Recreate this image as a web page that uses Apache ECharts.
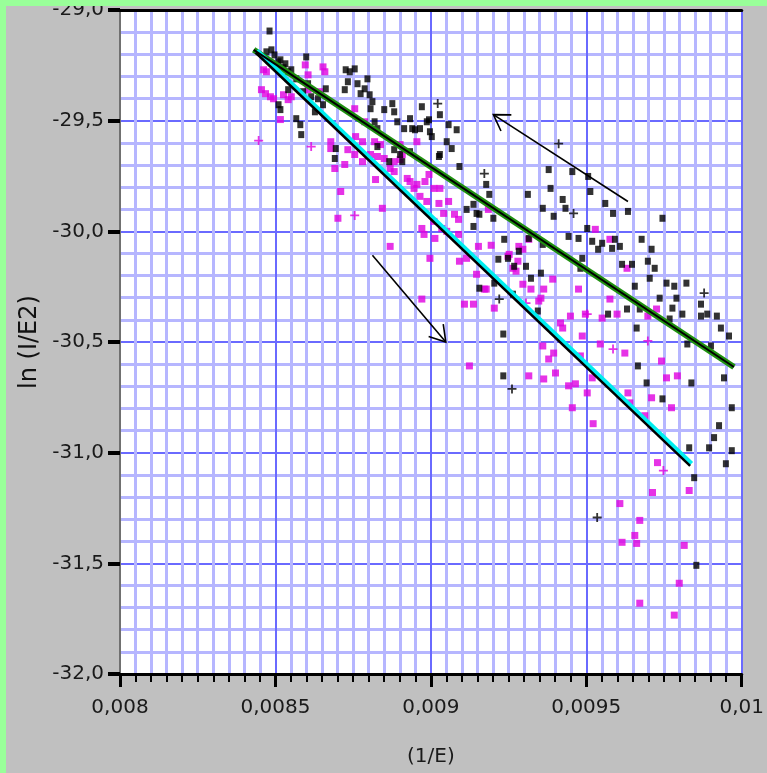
<!DOCTYPE html>
<html>
<head>
<meta charset="utf-8">
<script src="https://cdn.jsdelivr.net/npm/echarts@6/dist/echarts.min.js"></script>
<style>
html,body{margin:0;padding:0;background:#c0c0c0;}
#wrap{position:relative;width:767px;height:773px;overflow:hidden;}
#chart{position:absolute;left:0;top:0;width:767px;height:773px;}
.gb{position:absolute;background:#99ff99;z-index:5;}
</style>
</head>
<body>
<div id="wrap">
<div id="chart"></div>
<div class="gb" style="left:0;top:0;width:767px;height:6px;"></div>
<div class="gb" style="left:0;top:0;width:6px;height:773px;"></div>
</div>
<script>
// ---- data (x = 1/E, y = ln(I/E2)) ----
const blackSquares = [
[8.481e-3,-29.095],[8.487e-3,-29.180],[8.497e-3,-29.203],[8.510e-3,-29.234],[8.516e-3,-29.225],
[8.532e-3,-29.243],[8.541e-3,-29.279],[8.551e-3,-29.270],[8.567e-3,-29.311],[8.599e-3,-29.212],
[8.605e-3,-29.333],[8.510e-3,-29.428],[8.516e-3,-29.450],[8.567e-3,-29.491],[8.580e-3,-29.518],
[8.583e-3,-29.563],[8.615e-3,-29.392],[8.637e-3,-29.401],[8.653e-3,-29.428],[8.662e-3,-29.356],
[8.627e-3,-29.460],[8.694e-3,-29.626],[8.691e-3,-29.671],[8.726e-3,-29.270],[8.739e-3,-29.279],
[8.755e-3,-29.266],[8.733e-3,-29.324],[8.723e-3,-29.360],[8.764e-3,-29.333],[8.787e-3,-29.356],
[8.774e-3,-29.378],[8.796e-3,-29.311],[8.803e-3,-29.383],[8.812e-3,-29.414],[8.806e-3,-29.446],
[8.819e-3,-29.505],[8.828e-3,-29.536],[8.850e-3,-29.450],[8.876e-3,-29.423],[8.882e-3,-29.460],
[8.892e-3,-29.505],[8.914e-3,-29.536],[8.933e-3,-29.491],[8.940e-3,-29.536],[8.828e-3,-29.617],
[8.882e-3,-29.631],[8.901e-3,-29.653],[8.908e-3,-29.685],[8.866e-3,-29.685],[8.933e-3,-29.640],
[8.971e-3,-29.437],[8.949e-3,-29.541],[8.987e-3,-29.505],[8.997e-3,-29.550],[9.029e-3,-29.473],
[8.994e-3,-29.496],[8.965e-3,-29.536],[9.003e-3,-29.572],[9.057e-3,-29.518],[9.083e-3,-29.541],
[9.051e-3,-29.595],[9.029e-3,-29.653],[9.067e-3,-29.626],[9.026e-3,-29.662],[9.092e-3,-29.707],
[9.178e-3,-29.788],[9.188e-3,-29.833],[9.115e-3,-29.901],[9.147e-3,-29.919],[9.137e-3,-29.978],
[9.137e-3,-29.878],[9.156e-3,-29.923],[9.201e-3,-29.941],[9.236e-3,-30.036],[9.312e-3,-29.833],
[9.360e-3,-29.896],[9.379e-3,-29.721],[9.385e-3,-29.806],[9.424e-3,-29.856],[9.433e-3,-29.896],
[9.395e-3,-29.932],[9.443e-3,-30.023],[9.455e-3,-29.730],[9.315e-3,-30.032],[9.360e-3,-30.059],
[9.283e-3,-30.090],[9.506e-3,-29.752],[9.513e-3,-29.820],[9.561e-3,-29.874],[9.586e-3,-29.919],
[9.634e-3,-29.910],[9.745e-3,-29.941],[9.503e-3,-29.987],[9.475e-3,-30.032],[9.519e-3,-30.045],
[9.538e-3,-30.081],[9.551e-3,-30.054],[9.592e-3,-30.036],[9.608e-3,-30.068],[9.583e-3,-30.077],
[9.678e-3,-30.036],[9.710e-3,-30.081],[9.487e-3,-30.122],[9.481e-3,-30.167],[9.615e-3,-30.149],
[9.647e-3,-30.149],[9.698e-3,-30.135],[9.720e-3,-30.167],[9.704e-3,-30.212],[9.656e-3,-30.248],
[9.758e-3,-30.234],[9.783e-3,-30.248],[9.822e-3,-30.234],[9.736e-3,-30.302],[9.790e-3,-30.302],
[9.777e-3,-30.347],[9.809e-3,-30.374],[9.869e-3,-30.329],[9.869e-3,-30.383],[9.889e-3,-30.374],
[9.920e-3,-30.383],[9.933e-3,-30.437],[9.959e-3,-30.473],[9.570e-3,-30.374],[9.631e-3,-30.351],
[9.672e-3,-30.351],[9.662e-3,-30.437],[9.768e-3,-30.396],[9.901e-3,-30.518],[9.825e-3,-30.509],
[9.306e-3,-30.158],[9.217e-3,-30.126],[9.248e-3,-30.122],[9.268e-3,-30.158],[9.322e-3,-30.212],
[9.354e-3,-30.189],[9.156e-3,-30.257],[9.204e-3,-30.234],[9.264e-3,-30.284],[9.344e-3,-30.360],
[9.233e-3,-30.464],[9.233e-3,-30.653],[9.666e-3,-30.608],[9.694e-3,-30.685],[9.838e-3,-30.685],
[9.745e-3,-30.757],[9.943e-3,-30.662],[9.968e-3,-30.797],[9.927e-3,-30.878],[9.911e-3,-30.932],
[9.895e-3,-30.978],[9.831e-3,-30.978],[9.968e-3,-30.991],[9.949e-3,-31.050],[9.847e-3,-31.113],
[9.854e-3,-31.509],[8.471e-3,-29.189],[8.526e-3,-29.261],[8.589e-3,-29.369],[8.541e-3,-29.360]
];
const blackPlus = [
[9.022e-3,-29.423],[9.172e-3,-29.739],[9.411e-3,-29.604],[9.459e-3,-29.919],
[9.879e-3,-30.279],[9.220e-3,-30.306],[9.261e-3,-30.712],[9.535e-3,-31.293]
];
const magentaSquares = [
[8.462e-3,-29.270],[8.471e-3,-29.279],[8.455e-3,-29.360],[8.468e-3,-29.378],[8.484e-3,-29.392],
[8.494e-3,-29.401],[8.526e-3,-29.383],[8.541e-3,-29.405],[8.551e-3,-29.392],[8.516e-3,-29.495],
[8.596e-3,-29.248],[8.653e-3,-29.257],[8.659e-3,-29.279],[8.605e-3,-29.360],[8.605e-3,-29.293],
[8.643e-3,-29.369],[8.678e-3,-29.595],[8.678e-3,-29.626],[8.691e-3,-29.716],[8.723e-3,-29.698],
[8.733e-3,-29.631],[8.755e-3,-29.653],[8.758e-3,-29.572],[8.780e-3,-29.595],[8.787e-3,-29.505],
[8.755e-3,-29.446],[8.806e-3,-29.653],[8.828e-3,-29.662],[8.850e-3,-29.671],[8.838e-3,-29.608],
[8.819e-3,-29.595],[8.822e-3,-29.766],[8.869e-3,-29.716],[8.882e-3,-29.685],[8.901e-3,-29.676],
[8.908e-3,-29.653],[8.924e-3,-29.761],[8.933e-3,-29.775],[8.946e-3,-29.806],[8.710e-3,-29.820],
[8.780e-3,-29.685],[8.844e-3,-29.896],[8.701e-3,-29.941],[8.882e-3,-29.730],[8.965e-3,-29.842],
[8.987e-3,-29.865],[9.026e-3,-29.874],[9.057e-3,-29.865],[9.041e-3,-29.919],[9.076e-3,-29.923],
[9.035e-3,-29.987],[9.051e-3,-30.000],[8.971e-3,-29.987],[8.994e-3,-29.743],[9.010e-3,-29.806],
[8.869e-3,-30.068],[9.153e-3,-30.068],[9.194e-3,-30.063],[8.955e-3,-29.595],[8.901e-3,-29.608],
[8.955e-3,-29.788],[8.981e-3,-29.775],[9.029e-3,-29.806],[9.089e-3,-29.946],[9.010e-3,-29.955],
[8.978e-3,-30.014],[9.089e-3,-30.014],[9.185e-3,-29.901],[9.248e-3,-30.113],[8.997e-3,-30.122],
[8.971e-3,-30.306],[9.013e-3,-30.032],[9.092e-3,-30.135],[9.115e-3,-30.122],[9.147e-3,-30.194],
[9.178e-3,-30.261],[9.108e-3,-30.329],[9.137e-3,-30.329],[9.204e-3,-30.347],[9.252e-3,-30.104],
[9.264e-3,-30.167],[9.296e-3,-30.239],[9.322e-3,-30.261],[9.283e-3,-30.068],[9.354e-3,-30.302],
[9.124e-3,-30.608],[9.315e-3,-30.653],[9.363e-3,-30.667],[9.401e-3,-30.640],[9.455e-3,-30.797],
[9.522e-3,-30.869],[9.443e-3,-30.698],[9.465e-3,-30.689],[9.503e-3,-30.730],[9.379e-3,-30.577],
[9.395e-3,-30.550],[9.417e-3,-30.414],[9.424e-3,-30.437],[9.449e-3,-30.383],[9.487e-3,-30.473],
[9.545e-3,-30.509],[9.624e-3,-30.550],[9.360e-3,-30.518],[9.481e-3,-30.563],[9.519e-3,-30.662],
[9.634e-3,-30.730],[9.640e-3,-30.775],[9.688e-3,-30.833],[9.742e-3,-30.586],[9.758e-3,-30.662],
[9.793e-3,-30.653],[9.774e-3,-30.797],[9.710e-3,-30.752],[9.599e-3,-30.374],[9.698e-3,-30.383],
[9.726e-3,-30.351],[9.729e-3,-31.045],[9.713e-3,-31.180],[9.831e-3,-31.171],[9.608e-3,-31.230],
[9.672e-3,-31.306],[9.656e-3,-31.374],[9.662e-3,-31.410],[9.615e-3,-31.405],[9.815e-3,-31.419],
[9.799e-3,-31.590],[9.672e-3,-31.680],[9.783e-3,-31.734],[9.274e-3,-30.180],[9.172e-3,-30.261],
[9.296e-3,-30.081],[9.315e-3,-30.036],[9.280e-3,-30.135],[9.392e-3,-30.216],[9.363e-3,-30.261],
[9.347e-3,-30.315],[9.475e-3,-30.261],[9.497e-3,-30.374],[9.551e-3,-30.392],[9.576e-3,-30.306],
[9.529e-3,-29.991],[9.576e-3,-30.036],[9.631e-3,-30.167]
];
const magentaPlus = [
[8.446e-3,-29.590],[8.615e-3,-29.617],[8.755e-3,-29.928],[9.306e-3,-30.324],
[9.503e-3,-30.374],[9.586e-3,-30.532],[9.698e-3,-30.495],[9.748e-3,-31.081]
];
const fitUpper = [[8.430e-3,-29.180],[9.975e-3,-30.613]];
const fitLowerCyan = [[8.440e-3,-29.184],[9.838e-3,-31.050]];
const fitLowerBlack = [[8.436e-3,-29.192],[9.834e-3,-31.060]];
const arrows = [
[9.634e-3,-29.865,9.201e-3,-29.473],
[8.812e-3,-30.108,9.048e-3,-30.500]
];
const xMin = 0.008, xMax = 0.01, xStep = 0.0005;
const yMin = -32, yMax = -29, yStep = 0.5;

const FONT = "'DejaVu Sans', sans-serif";
const PLUS = 'path://M4,0H6V4H10V6H6V10H4V6H0V4H4Z';
const chart = echarts.init(document.getElementById('chart'), null, {renderer:'canvas'});
const fmtX = v => String(parseFloat(v.toPrecision(6))).replace('.', ',');
const fmtY = v => v.toFixed(1).replace('.', ',');

chart.setOption({
  animation: false,
  backgroundColor: '#c0c0c0',
  grid: {left:120, top:8, width:628, height:666, show:true, backgroundColor:'#ffffff', borderWidth:0},
  xAxis: [{
    type:'value', min:xMin, max:xMax, interval:xStep, position:'bottom',
    axisLine:{show:true, onZero:false, lineStyle:{color:'#000', width:3}},
    axisTick:{show:true, length:13, lineStyle:{color:'#000', width:3}},
    minorTick:{show:true, splitNumber:10, length:8, lineStyle:{color:'#000', width:2}},
    splitLine:{show:true, lineStyle:{color:'#6a6aff', width:2}},
    minorSplitLine:{show:true, lineStyle:{color:'#b6b6ff', width:3}},
    axisLabel:{formatter:fmtX, margin:24, color:'#1a1a1a', fontFamily:FONT, fontSize:20},
    name:'(1/E)', nameLocation:'middle', nameGap:73,
    nameTextStyle:{color:'#1a1a1a', fontFamily:FONT, fontSize:20}
  },{
    type:'value', min:xMin, max:xMax, interval:xStep, position:'top',
    axisLine:{show:true, onZero:false, lineStyle:{color:'#000', width:3}},
    axisTick:{show:false}, axisLabel:{show:false}, splitLine:{show:false}
  }],
  yAxis: {
    type:'value', min:yMin, max:yMax, interval:yStep,
    axisLine:{show:true, onZero:false, lineStyle:{color:'#707070', width:2}},
    axisTick:{show:true, length:12, lineStyle:{color:'#000', width:4}},
    splitLine:{show:true, lineStyle:{color:'#6a6aff', width:2}},
    minorSplitLine:{show:true, lineStyle:{color:'#b6b6ff', width:3}},
    minorTick:{show:false, splitNumber:5},
    axisLabel:{formatter:fmtY, margin:16, color:'#1a1a1a', fontFamily:FONT, fontSize:20},
    name:'ln (I/E2)', nameLocation:'middle', nameGap:64, nameRotate:90,
    nameTextStyle:{color:'#111', fontFamily:FONT, fontSize:24}
  },
  series: [
    {type:'scatter', data:magentaSquares, symbol:'rect', symbolSize:[7,7], itemStyle:{color:'#e000e0'}, silent:true},
    {type:'scatter', data:magentaPlus, symbol:PLUS, symbolSize:9, itemStyle:{color:'#e000e0'}, silent:true},
    {type:'scatter', data:blackSquares, symbol:'rect', symbolSize:[6,7], itemStyle:{color:'#000'}, silent:true},
    {type:'scatter', data:blackPlus, symbol:PLUS, symbolSize:9, itemStyle:{color:'#000'}, silent:true},
    {type:'line', data:fitUpper, showSymbol:false, lineStyle:{color:'#1f9010', width:6}, silent:true, z:5},
    {type:'line', data:fitUpper, showSymbol:false, lineStyle:{color:'#000', width:2}, silent:true, z:6},
    {type:'line', data:fitLowerCyan, showSymbol:false, lineStyle:{color:'#00eef0', width:5}, silent:true, z:5},
    {type:'line', data:fitLowerBlack, showSymbol:false, lineStyle:{color:'#000', width:2.5}, silent:true, z:6},
    {type:'custom', data:arrows, encode:{x:[0,2], y:[1,3]}, silent:true, z:7,
     renderItem:function(params, api){
       const a = api.coord([api.value(0), api.value(1)]);
       const b = api.coord([api.value(2), api.value(3)]);
       const ang = Math.atan2(b[1]-a[1], b[0]-a[0]);
       const L = 18, s = 0.56;
       const h1 = [b[0]-L*Math.cos(ang-s), b[1]-L*Math.sin(ang-s)];
       const h2 = [b[0]-L*Math.cos(ang+s), b[1]-L*Math.sin(ang+s)];
       return {type:'group', children:[
         {type:'line', shape:{x1:a[0], y1:a[1], x2:b[0], y2:b[1]}, style:{stroke:'#000', lineWidth:1.6}},
         {type:'polyline', shape:{points:[h1, b, h2]}, style:{stroke:'#000', fill:null, lineWidth:1.6}}
       ]};
     }}
  ]
});
</script>
</body>
</html>
